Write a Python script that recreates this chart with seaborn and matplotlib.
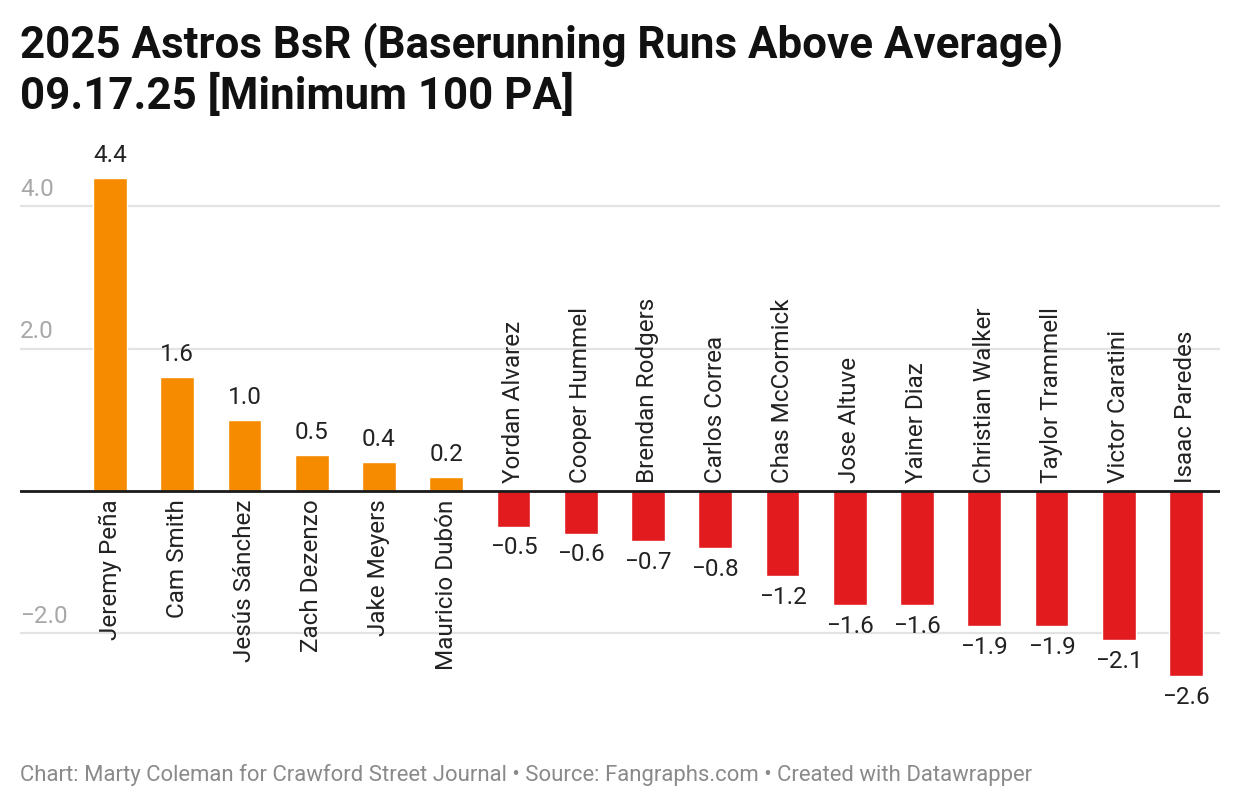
import matplotlib
matplotlib.use("Agg")
import matplotlib.pyplot as plt
import matplotlib.transforms as mtransforms
import seaborn as sns
import pandas as pd

players = ["Jeremy Peña", "Cam Smith", "Jesús Sánchez", "Zach Dezenzo", "Jake Meyers",
           "Mauricio Dubón", "Yordan Alvarez", "Cooper Hummel", "Brendan Rodgers",
           "Carlos Correa", "Chas McCormick", "Jose Altuve", "Yainer Diaz",
           "Christian Walker", "Taylor Trammell", "Victor Caratini", "Isaac Paredes"]
bsr = [4.4, 1.6, 1.0, 0.5, 0.4, 0.2, -0.5, -0.6, -0.7, -0.8, -1.2, -1.6, -1.6,
       -1.9, -1.9, -2.1, -2.6]
y_ticks = [-2.0, 2.0, 4.0]

title = "2025 Astros BsR (Baserunning Runs Above Average)\n09.17.25 [Minimum 100 PA]"
footer = ("Chart: Marty Coleman for Crawford Street Journal \u2022 Source: Fangraphs.com "
          "\u2022 Created with Datawrapper")

orange = "#f68b00"
red = "#e21b1f"

df = pd.DataFrame({"player": players, "bsr": bsr})
df["sign"] = ["pos" if v >= 0 else "neg" for v in bsr]

sns.set_style("white")
plt.rcParams["font.family"] = ["Roboto", "DejaVu Sans"]

fig = plt.figure(figsize=(12.4, 8.08), dpi=100)
ax = fig.add_axes([20 / 1240, (808 - 718.8) / 808, 1200 / 1240, 569.6 / 808])

sns.barplot(data=df, x="player", y="bsr", hue="sign", order=players,
            palette={"pos": orange, "neg": red}, dodge=False, width=0.5,
            legend=False, saturation=1, ax=ax)

ax.set_xlim(-1.338, 16.506)
ax.set_ylim(-3.2, 4.8)

for y in y_ticks:
    ax.axhline(y, color="#e3e3e3", lw=1.6, zorder=0)
ax.axhline(0, color="#1a1a1a", lw=2, zorder=3)

fs = 17.5
# y labels sitting above gridlines
trans = mtransforms.blended_transform_factory(ax.transAxes, ax.transData)
for y in y_ticks:
    lbl = f"{y:.1f}".replace("-", "\u2212")
    ax.annotate(lbl, xy=(0, y), xycoords=trans, xytext=(0, 4), textcoords="offset points",
                ha="left", va="bottom", fontsize=fs, color="#a8a8a8")

for i, (name, v) in enumerate(zip(players, bsr)):
    lbl = f"{v:.1f}".replace("-", "\u2212")
    if v >= 0:
        ax.annotate(lbl, xy=(i, v), xytext=(0, 8), textcoords="offset points",
                    ha="center", va="bottom", fontsize=fs, color="#222222")
        ax.annotate(name, xy=(i, 0), xytext=(0, -6), textcoords="offset points",
                    ha="center", va="top", rotation=90, fontsize=fs, color="#222222")
    else:
        ax.annotate(lbl, xy=(i, v), xytext=(0, -7), textcoords="offset points",
                    ha="center", va="top", fontsize=fs, color="#222222")
        ax.annotate(name, xy=(i, 0), xytext=(0, 6), textcoords="offset points",
                    ha="center", va="bottom", rotation=90, fontsize=fs, color="#222222")

ax.set_xticks([])
ax.set_yticks([])
ax.set_xlabel("")
ax.set_ylabel("")
sns.despine(ax=ax, left=True, bottom=True)

fig.text(20 / 1240, 1 - 23 / 808, title, ha="left", va="top", fontsize=31.6,
         fontweight="bold", color="#111111", linespacing=1.17)
fig.text(20 / 1240, 1 - 775 / 808, footer, ha="left", va="center", fontsize=15.9,
         color="#8a8a8a")

fig.savefig("out.png", dpi=100, facecolor="white")
